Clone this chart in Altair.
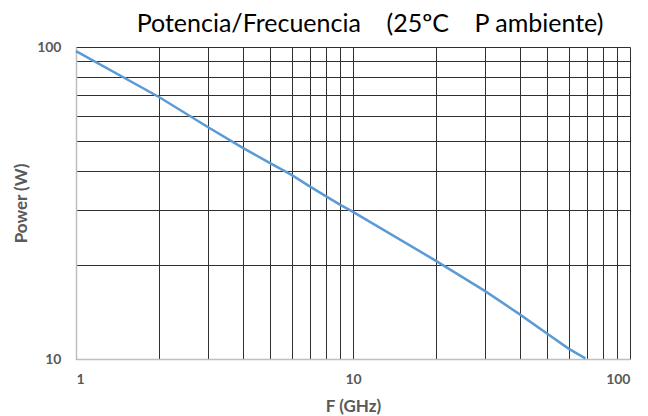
import altair as alt
import pandas as pd

freq = [1, 2, 3, 4, 5, 6, 7, 8, 9, 10, 20, 30, 40, 50, 60, 69]
power = [97.0, 69.0, 55.3, 47.5, 42.5, 38.9, 35.7, 33.2, 31.2, 29.6, 20.6, 16.5, 13.9, 12.1, 10.8, 10.05]

x_grid = [1, 2, 3, 4, 5, 6, 7, 8, 9, 10, 20, 30, 40, 50, 60, 70, 80, 90, 100]
y_grid = [10, 20, 30, 40, 50, 60, 70, 80, 90, 100]

df = pd.DataFrame({"f": freq, "p": power})

FONT = "Lato"
LABEL_COLOR = "#595959"

chart = alt.Chart(df).mark_line(color="#5B9BD5", strokeWidth=2.5, interpolate="linear").encode(
    x=alt.X("f:Q",
            scale=alt.Scale(type="log", domain=[1, 100], nice=False),
            axis=alt.Axis(values=x_grid, title="F (GHz)",
                          labelExpr="(datum.value == 1 || datum.value == 10 || datum.value == 100) ? datum.value : ''",
                          ticks=False, labelPadding=13, titlePadding=12,
                          gridColor="#303030", gridWidth=1, gridOpacity=1,
                          domainColor="#bfbfbf", domainWidth=1.5)),
    y=alt.Y("p:Q",
            scale=alt.Scale(type="log", domain=[10, 100], nice=False),
            axis=alt.Axis(values=y_grid, title="Power (W)",
                          labelExpr="(datum.value == 10 || datum.value == 100) ? datum.value : ''",
                          ticks=False, labelPadding=15, titlePadding=6,
                          gridColor="#303030", gridWidth=1, gridOpacity=1,
                          domainColor="#bfbfbf", domainWidth=1.5)),
).properties(
    width=554,
    height=312,
    padding={"left": 68, "top": 39, "right": 10, "bottom": 62},
    autosize="none",
    title=alt.TitleParams(
        "Potencia/Frecuencia\u00a0\u00a0\u00a0\u00a0(25ºC\u00a0\u00a0\u00a0\u00a0P ambiente)",
        font=FONT, fontSize=25, fontWeight="normal", color="#000000",
        anchor="middle", dx=17, offset=3),
).configure_axis(
    labelFont=FONT, labelFontSize=14, labelFontWeight="bold", labelColor=LABEL_COLOR,
    titleFont=FONT, titleFontSize=17, titleFontWeight="bold", titleColor=LABEL_COLOR,
).configure_view(stroke=None)

chart.save("out.html", embed_options={"renderer": "svg", "actions": False})
